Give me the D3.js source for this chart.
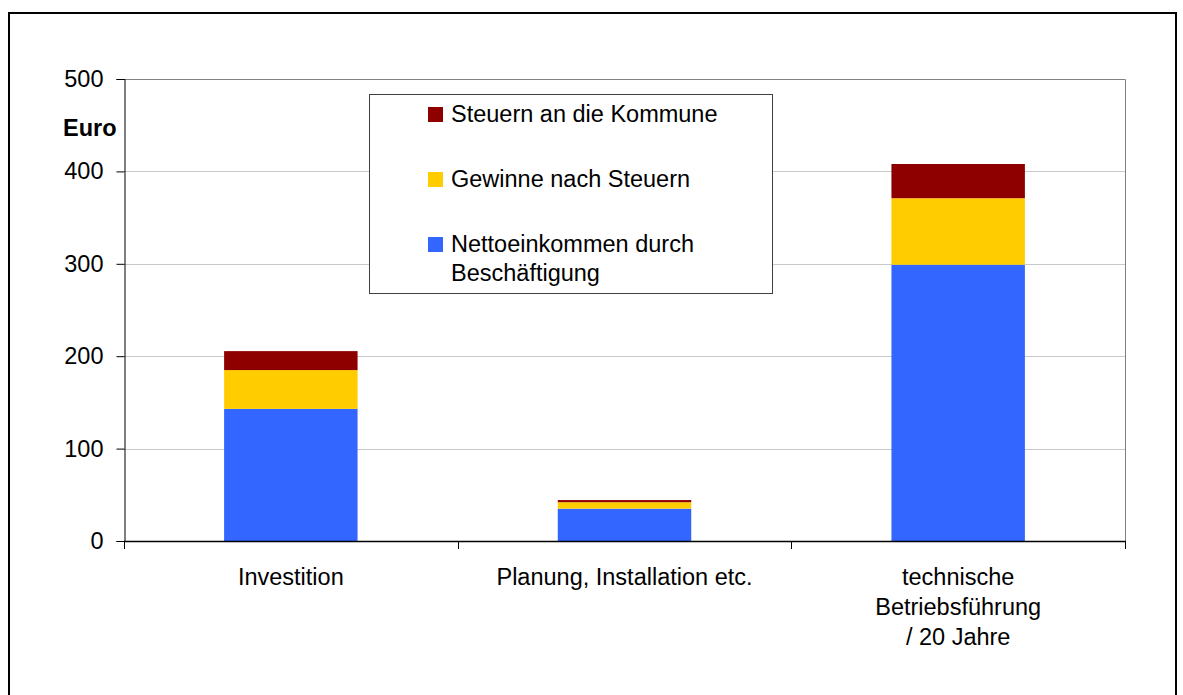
<!DOCTYPE html>
<html>
<head>
<meta charset="utf-8">
<script src="https://cdn.jsdelivr.net/npm/d3@7/dist/d3.min.js"></script>
<style>
  html, body { margin: 0; padding: 0; background: #fff; }
  svg { display: block; }
  text { font-family: "Liberation Sans", Arial, sans-serif; fill: #000; }
</style>
</head>
<body>
<svg id="chart" width="1183" height="695"></svg>
<script>
// ---- Data ----
const categories = ["Investition", "Planung, Installation etc.", "technische Betriebsführung / 20 Jahre"];
const categoryLabelLines = [["Investition"], ["Planung, Installation etc."], ["technische", "Betriebsführung", "/ 20 Jahre"]];
const seriesNames = ["Nettoeinkommen durch Beschäftigung", "Gewinne nach Steuern", "Steuern an die Kommune"];
const nettoeinkommen = [143, 35, 299];
const gewinne = [42, 7, 72];
const steuern = [20.5, 2.3, 37];
const yTicks = [0, 100, 200, 300, 400, 500];
const yLabel = "Euro";

// ---- Layout ----
const colors = ["#3366FF", "#FFCC00", "#8E0000"];
const fontSize = 23.5;
const svg = d3.select("#chart");
const plotL = 124, plotR = 1125, plotT = 79, plotB = 541;

// outer frame
svg.append("rect").attr("x", 9).attr("y", 13).attr("width", 1167).attr("height", 700)
  .attr("fill", "none").attr("stroke", "#000").attr("stroke-width", 2);

const x = d3.scaleBand().domain(categories).range([plotL, plotR]).paddingInner(0.6).paddingOuter(0.3);
const y = d3.scaleLinear().domain([0, 500]).range([plotB, plotT]);

// gridlines
svg.append("g").selectAll("line").data(yTicks.filter(d => d > 0 && d < 500)).join("line")
  .attr("x1", plotL).attr("x2", plotR)
  .attr("y1", d => Math.round(y(d)) + 0.5).attr("y2", d => Math.round(y(d)) + 0.5)
  .attr("stroke", "#C8C8C8").attr("stroke-width", 1);

// plot area border (top & right)
svg.append("path")
  .attr("d", `M${plotL},${plotT + 0.5}H${plotR + 0.5}V${plotB}`)
  .attr("fill", "none").attr("stroke", "#808080").attr("stroke-width", 1);

// stacked bars
const table = categories.map((c, i) => ({
  cat: c,
  [seriesNames[0]]: nettoeinkommen[i],
  [seriesNames[1]]: gewinne[i],
  [seriesNames[2]]: steuern[i]
}));
const stacked = d3.stack().keys(seriesNames)(table);
svg.append("g").selectAll("g").data(stacked).join("g")
  .attr("fill", (d, i) => colors[i])
  .selectAll("rect").data(d => d).join("rect")
  .attr("x", d => x(d.data.cat))
  .attr("width", x.bandwidth())
  .attr("y", d => y(d[1]))
  .attr("height", d => y(d[0]) - y(d[1]));

// y axis
const yAxis = d3.axisLeft(y).tickValues(yTicks).tickSize(8).tickPadding(13).tickFormat(d3.format("d"));
const yg = svg.append("g").attr("transform", `translate(${plotL + 0.5},0)`).call(yAxis);
yg.select(".domain").attr("stroke", "#000");
yg.selectAll(".tick line").attr("stroke", "#000");
yg.selectAll(".tick text").attr("font-size", fontSize).attr("font-family", "Liberation Sans, Arial, sans-serif").attr("fill", "#000");

// x axis
const xEdges = [0, 1, 2, 3].map(i => plotL + (plotR - plotL) * i / 3);
svg.append("line").attr("x1", plotL).attr("x2", plotR + 1).attr("y1", plotB + 0.5).attr("y2", plotB + 0.5)
  .attr("stroke", "#000").attr("stroke-width", 1.5);
svg.append("g").selectAll("line").data(xEdges).join("line")
  .attr("x1", d => Math.round(d) + 0.5).attr("x2", d => Math.round(d) + 0.5)
  .attr("y1", plotB).attr("y2", plotB + 8).attr("stroke", "#000");

// x labels
const xl = svg.append("g").selectAll("text").data(categories).join("text")
  .attr("text-anchor", "middle").attr("font-size", fontSize)
  .attr("x", d => x(d) + x.bandwidth() / 2).attr("y", 585);
xl.each(function (d, i) {
  const t = d3.select(this);
  categoryLabelLines[i].forEach((line, j) => {
    t.append("tspan").attr("x", x(d) + x.bandwidth() / 2).attr("y", 585 + j * 30).text(line);
  });
});

// y label
svg.append("text").attr("x", 63).attr("y", 136).attr("font-size", fontSize).attr("font-weight", "bold").text(yLabel);

// legend
const lg = svg.append("g");
lg.append("rect").attr("x", 369.5).attr("y", 94.5).attr("width", 403).attr("height", 199)
  .attr("fill", "#fff").attr("stroke", "#404040").attr("stroke-width", 1);
const legendItems = [
  { lines: ["Steuern an die Kommune"], color: colors[2], base: 122 },
  { lines: ["Gewinne nach Steuern"], color: colors[1], base: 187 },
  { lines: ["Nettoeinkommen durch", "Beschäftigung"], color: colors[0], base: 252 }
];
legendItems.forEach(it => {
  lg.append("rect").attr("x", 428).attr("y", it.base - 15).attr("width", 15).attr("height", 15).attr("fill", it.color);
  const t = lg.append("text").attr("font-size", fontSize);
  it.lines.forEach((l, j) => t.append("tspan").attr("x", 451).attr("y", it.base + j * 28.5).text(l));
});
</script>
</body>
</html>
